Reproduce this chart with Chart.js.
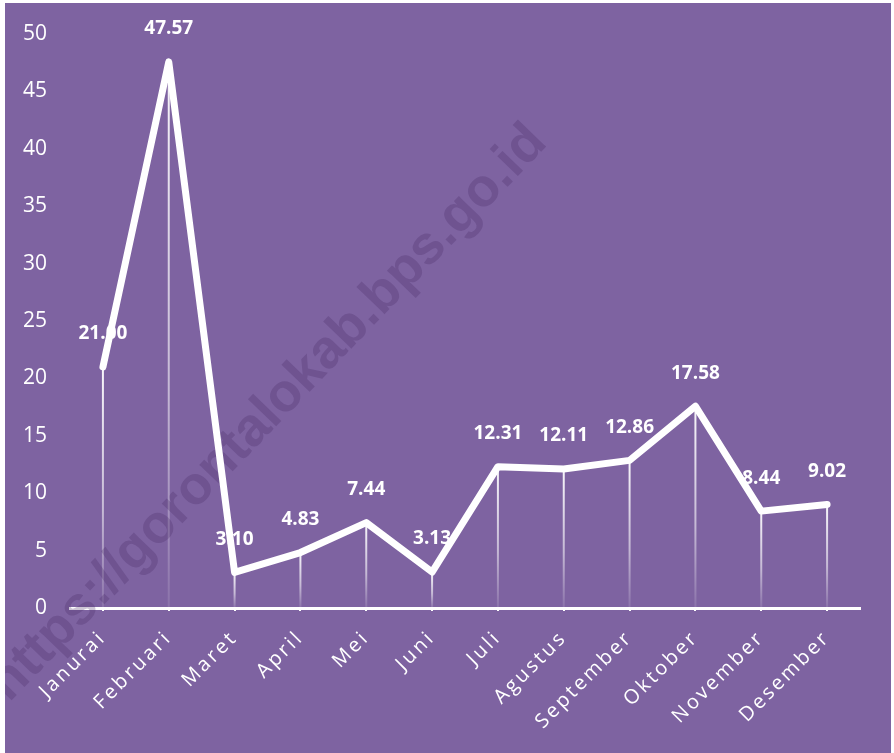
<!DOCTYPE html>
<html>
<head>
<meta charset="utf-8">
<script src="https://cdn.jsdelivr.net/npm/chart.js@4/dist/chart.umd.min.js"></script>
<style>
  html, body { margin: 0; padding: 0; background: #ffffff; }
  #wrap { position: absolute; left: 5px; top: 3px; width: 886px; height: 750px; }
  canvas { display: block; }
</style>
</head>
<body>
<div id="wrap"><canvas id="c" width="886" height="750"></canvas></div>
<script>
const months = ["Janurai", "Februari", "Maret", "April", "Mei", "Juni", "Juli", "Agustus", "September", "Oktober", "November", "Desember"];
const values = [21.00, 47.57, 3.10, 4.83, 7.44, 3.13, 12.31, 12.11, 12.86, 17.58, 8.44, 9.02];
const yTicks = [0, 5, 10, 15, 20, 25, 30, 35, 40, 45, 50];
const watermark = "https://gorontalokab.bps.go.id";

const BG = "#7E63A1";

const bgPlugin = {
  id: "bg",
  beforeDraw(chart) {
    const ctx = chart.ctx;
    ctx.save();
    ctx.fillStyle = BG;
    ctx.fillRect(0, 0, chart.width, chart.height);
    ctx.restore();
  },
  afterLayout(chart) {
    const s = chart.scales.x;
    if (s && !s._spaced) {
      const orig = s.drawLabels.bind(s);
      s.drawLabels = function (area) {
        const ctx = this.ctx;
        ctx.save();
        ctx.letterSpacing = "2.8px";
        orig(area);
        ctx.restore();
      };
      s._spaced = true;
    }
  },
  beforeDatasetsDraw(chart) {
    const ctx = chart.ctx;
    const meta = chart.getDatasetMeta(0);
    const yBottom = chart.scales.y.getPixelForValue(0);
    ctx.save();
    meta.data.forEach(pt => {
      const g = ctx.createLinearGradient(0, pt.y, 0, yBottom);
      g.addColorStop(0, "rgba(255,255,255,0.95)");
      g.addColorStop(0.6, "rgba(255,255,255,0.55)");
      g.addColorStop(1, "rgba(255,255,255,0.1)");
      ctx.strokeStyle = g;
      ctx.lineWidth = 2;
      ctx.beginPath();
      ctx.moveTo(pt.x, pt.y);
      ctx.lineTo(pt.x, yBottom);
      ctx.stroke();
    });
    // watermark
    ctx.translate(4, 700);
    ctx.rotate(-46 * Math.PI / 180);
    ctx.font = "bold 54px 'Liberation Sans', Arial, sans-serif";
    ctx.fillStyle = "rgba(70,40,100,0.27)";
    ctx.textBaseline = "alphabetic";
    ctx.textAlign = "left";
    ctx.fillText(watermark, 0, 0);
    ctx.restore();
  },
  afterDatasetsDraw(chart) {
    const ctx = chart.ctx;
    const meta = chart.getDatasetMeta(0);
    ctx.save();
    ctx.font = "bold 19px 'Open Sans', sans-serif";
    ctx.fillStyle = "#ffffff";
    ctx.textAlign = "center";
    ctx.textBaseline = "middle";
    meta.data.forEach((pt, i) => {
      ctx.fillText(values[i].toFixed(2), pt.x, pt.y - 33);
    });
    ctx.restore();
  }
};

new Chart(document.getElementById("c"), {
  type: "line",
  data: {
    labels: months,
    datasets: [{
      data: values,
      borderColor: "#ffffff",
      borderWidth: 7,
      borderJoinStyle: "round",
      borderCapStyle: "round",
      pointRadius: 0,
      pointHoverRadius: 0,
      tension: 0,
      fill: false
    }]
  },
  options: {
    responsive: false,
    animation: false,
    plugins: { legend: { display: false }, tooltip: { enabled: false } },
    layout: { padding: { top: 31, right: 31, left: 0, bottom: 0 } },
    scales: {
      x: {
        offset: true,
        grid: { display: true, drawOnChartArea: false, drawTicks: true, tickLength: 3, color: "#ffffff", lineWidth: 2 },
        border: { display: true, color: "#ffffff", width: 3 },
        ticks: {
          color: "#ffffff",
          font: { family: "'Open Sans', sans-serif", size: 20 },
          maxRotation: 45,
          minRotation: 45,
          padding: 15,
          autoSkip: false
        },
        afterFit(scale) { scale.height = 145; }
      },
      y: {
        min: 0,
        max: 50,
        afterBuildTicks(scale) { scale.ticks = yTicks.map(v => ({ value: v })); },
        grid: { display: false, drawTicks: false },
        border: { display: false },
        ticks: {
          color: "#ffffff",
          font: { family: "'Open Sans', sans-serif", size: 21 },
          padding: 23
        },
        afterFit(scale) {
          scale.width = 65;
          scale.paddingTop = 0;
          scale.paddingBottom = 0;
        }
      }
    }
  },
  plugins: [bgPlugin]
});
</script>
</body>
</html>
